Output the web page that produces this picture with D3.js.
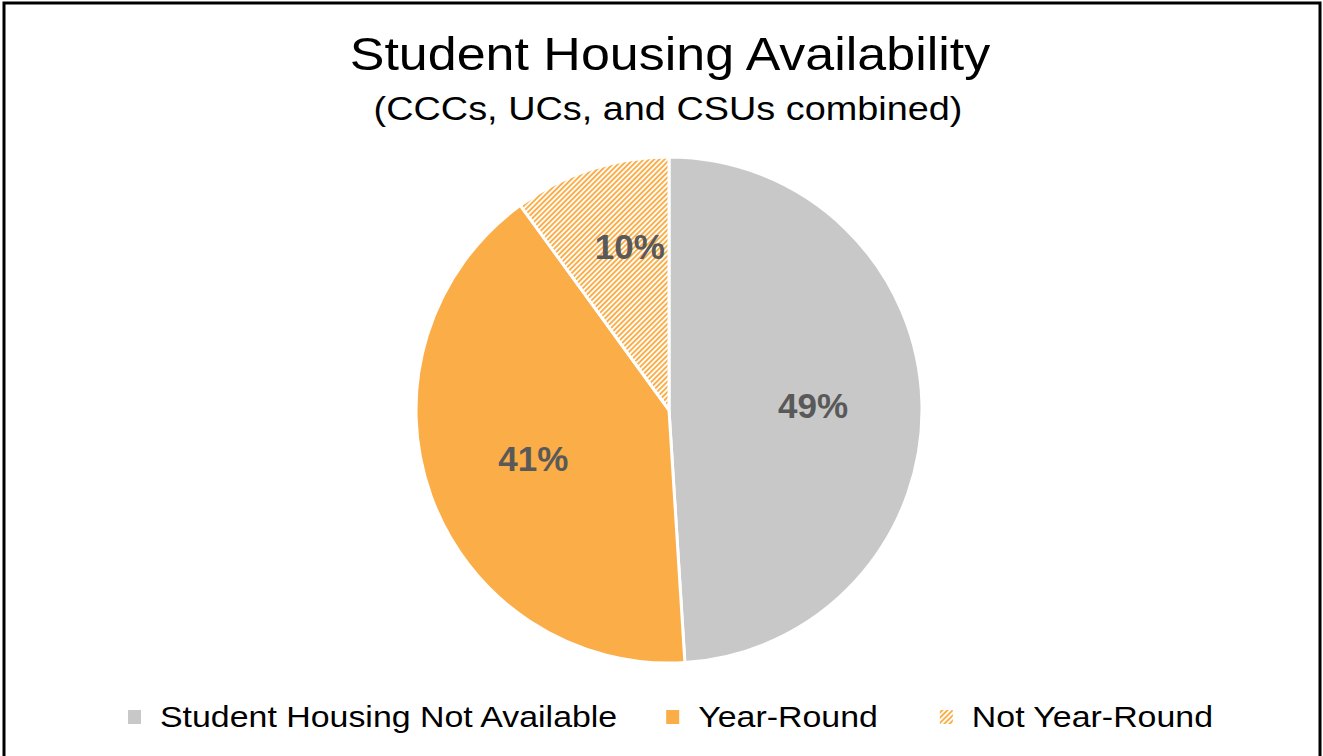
<!DOCTYPE html>
<html><head><meta charset="utf-8">
<script src="https://cdn.jsdelivr.net/npm/d3@7"></script>
<style>
html,body{margin:0;padding:0;background:#fff;}
svg{display:block;}
text{font-family:"Liberation Sans",Arial,sans-serif;}
</style></head>
<body>
<svg id="chart" width="1323" height="756"></svg>
<script>
const categories = ["Student Housing Not Available", "Year-Round", "Not Year-Round"];
const values = [49, 41, 10];
const labels = ["49%", "41%", "10%"];
const colors = ["#c8c8c8", "#fbad47", "url(#hatch)"];
const title = "Student Housing Availability";
const subtitle = "(CCCs, UCs, and CSUs combined)";

const W = 1323, H = 756;
const svg = d3.select("#chart");
const defs = svg.append("defs");
const pat = defs.append("pattern").attr("id","hatch").attr("patternUnits","userSpaceOnUse")
  .attr("width",3.7).attr("height",3.7).attr("patternTransform","rotate(45)");
pat.append("rect").attr("width",3.7).attr("height",3.7).attr("fill","#fff");
pat.append("rect").attr("x",0).attr("y",0).attr("width",1.9).attr("height",3.7).attr("fill","#fbad47");

// frame
svg.append("rect").attr("x",4).attr("y",3).attr("width",1316).attr("height",760)
  .attr("fill","none").attr("stroke","#000").attr("stroke-width",3);

const SX = 1.13;
function stretchedText(g, x, y, str, size, weight, fill, anchor){
  return g.append("text").attr("transform",`translate(${x},${y}) scale(${SX},1)`)
    .attr("text-anchor",anchor).attr("font-size",size).attr("font-weight",weight)
    .attr("fill",fill).text(str);
}
stretchedText(svg, 670, 70, title, 46, "normal", "#000", "middle");
stretchedText(svg, 668, 120, subtitle, 33.5, "normal", "#000", "middle");

const cx = 669, cy = 410, r = 253;
const pie = d3.pie().sort(null).value(d=>d);
const arcs = pie(values);
const arc = d3.arc().innerRadius(0).outerRadius(r);
const g = svg.append("g").attr("transform",`translate(${cx},${cy})`);
g.selectAll("path.slice").data(arcs).join("path").attr("class","slice")
  .attr("d",arc).attr("fill",(d,i)=>colors[i])
  .attr("stroke","#fff").attr("stroke-width",3).attr("stroke-linejoin","round");

const labelArc = d3.arc().innerRadius(r*0.57).outerRadius(r*0.57);
const smallArc = d3.arc().innerRadius(r*0.68).outerRadius(r*0.68);
g.selectAll("text.lbl").data(arcs).join("text").attr("class","lbl")
  .attr("transform",(d)=>{
    const small = (d.endAngle-d.startAngle) < 0.8;
    const c = small ? smallArc.centroid(d) : labelArc.centroid(d);
    const dx = small ? 14 : 0;
    return `translate(${c[0]+dx},${c[1]})`;
  })
  .attr("text-anchor","middle").attr("dy","0.36em")
  .attr("font-size",35).attr("font-weight","bold").attr("fill","#595959")
  .text((d,i)=>labels[i]);

// legend
const lg = svg.append("g");
const items = [];
categories.forEach((c,i)=>{
  const it = lg.append("g");
  it.append("rect").attr("x",0).attr("y",-17).attr("width",13).attr("height",14).attr("fill",colors[i]);
  const t = stretchedText(it, 32, 0, c, 30, "normal", "#000", "start");
  items.push({g:it, w: 32 + t.node().getComputedTextLength()*SX});
});
const gaps = [49, 62];
let x = 128;
items.forEach((it,i)=>{ it.g.attr("transform",`translate(${x},727)`); x += it.w + (gaps[i]||0); });
</script>
</body></html>
